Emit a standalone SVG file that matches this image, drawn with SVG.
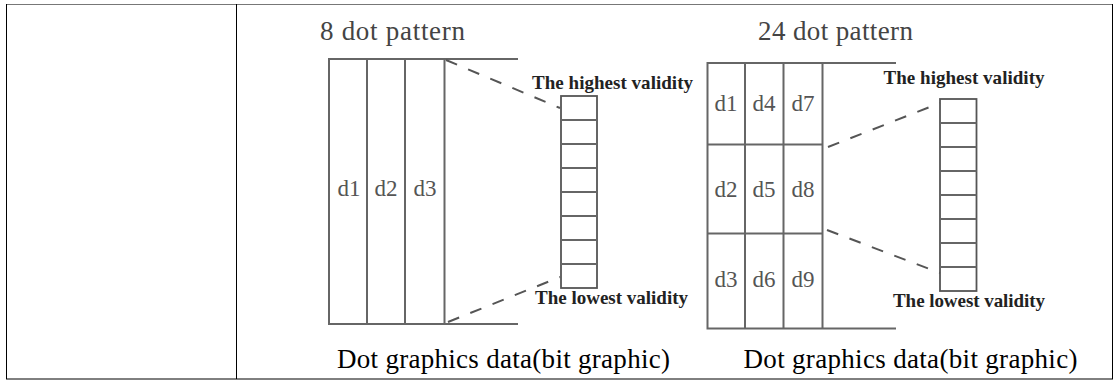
<svg xmlns="http://www.w3.org/2000/svg" width="1118" height="380" viewBox="0 0 1118 380">
<style>
.frame{fill:none;stroke:#000;stroke-width:1}
.ln{fill:none;stroke:#666;stroke-width:2}
.cell{fill:#fff;stroke:#555;stroke-width:1.8}
.dash{fill:none;stroke:#555;stroke-width:2;stroke-dasharray:12 12}
.title{font-family:"Liberation Serif",serif;font-size:27px;fill:#444}
.lbl{font-family:"Liberation Serif",serif;font-size:23px;fill:#555;text-anchor:middle}
.val{font-family:"Liberation Serif",serif;font-size:19px;font-weight:bold;fill:#222}
.cap{font-family:"Liberation Serif",serif;font-size:27px;fill:#000}
</style>
<rect width="1118" height="380" fill="#fff"/>
<g id="table">
<line x1="6" y1="4.5" x2="1113" y2="4.5" stroke="#777" stroke-width="1"/>
<line x1="6" y1="379" x2="1113" y2="379" stroke="#000" stroke-width="1"/>
<line x1="6.5" y1="4" x2="6.5" y2="379" stroke="#000" stroke-width="1"/>
<line x1="1112.5" y1="4" x2="1112.5" y2="379" stroke="#000" stroke-width="1"/>
<line x1="236.5" y1="4" x2="236.5" y2="379" stroke="#000" stroke-width="1"/>
</g>
<g id="pattern8">
<text class="title" x="320" y="40" textLength="145" lengthAdjust="spacing">8 dot pattern</text>
<path class="ln" d="M518 59 H329 V324 H518 M367 59 V324 M405 59 V324 M444.5 59 V324"/>
<text class="lbl" x="349" y="196">d1</text>
<text class="lbl" x="386" y="196">d2</text>
<text class="lbl" x="425" y="196">d3</text>
</g>
<g id="stack8">
<rect class="cell" x="561" y="96" width="36" height="192"/>
<path class="ln" d="M561 120 H597 M561 144 H597 M561 168 H597 M561 192 H597 M561 216 H597 M561 240 H597 M561 264 H597" stroke="#555"/>
<text class="val" x="532" y="88.5" textLength="161" lengthAdjust="spacing">The highest validity</text>
<text class="val" x="535" y="303.5" textLength="153" lengthAdjust="spacing">The lowest validity</text>
</g>
<g id="pattern24">
<text class="title" x="758" y="40" textLength="155" lengthAdjust="spacing">24 dot pattern</text>
<path class="ln" d="M896 63 H707.5 V328.5 H896 M745 63 V328.5 M783.5 63 V328.5 M822.5 63 V328.5 M707.5 144.5 H822.5 M707.5 233.5 H822.5"/>
<text class="lbl" x="726" y="111">d1</text>
<text class="lbl" x="764" y="111">d4</text>
<text class="lbl" x="803" y="111">d7</text>
<text class="lbl" x="726" y="197">d2</text>
<text class="lbl" x="764" y="197">d5</text>
<text class="lbl" x="803" y="197">d8</text>
<text class="lbl" x="726" y="286.5">d3</text>
<text class="lbl" x="764" y="286.5">d6</text>
<text class="lbl" x="803" y="286.5">d9</text>
</g>
<g id="stack24">
<rect class="cell" x="940" y="99" width="36.5" height="192"/>
<path class="ln" d="M940 123 H976.5 M940 147 H976.5 M940 171 H976.5 M940 195 H976.5 M940 219 H976.5 M940 243 H976.5 M940 267 H976.5" stroke="#555"/>
<text class="val" x="883.5" y="83.5" textLength="161" lengthAdjust="spacing">The highest validity</text>
<text class="val" x="893" y="307" textLength="152" lengthAdjust="spacing">The lowest validity</text>
</g>
<g id="connectors">
<line class="dash" x1="446" y1="60" x2="560" y2="108"/>
<line class="dash" x1="448" y1="322" x2="560" y2="277"/>
<line class="dash" x1="828" y1="147" x2="940" y2="103"/>
<line class="dash" x1="827" y1="230" x2="940" y2="273"/>
</g>
<g id="captions">
<text class="cap" x="337" y="367.5" textLength="333" lengthAdjust="spacing">Dot graphics data(bit graphic)</text>
<text class="cap" x="743.5" y="367.5" textLength="334" lengthAdjust="spacing">Dot graphics data(bit graphic)</text>
</g>
</svg>
